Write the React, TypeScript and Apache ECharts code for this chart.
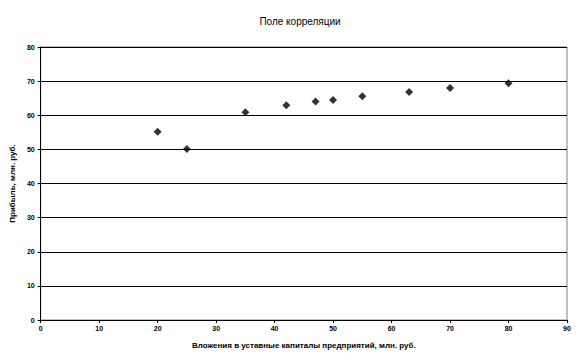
import React, { useEffect, useRef } from "react";
import * as echarts from "echarts";

const investments = [20, 25, 35, 42, 47, 50, 55, 63, 70, 80];
const profits = [55.2, 50.1, 60.9, 62.9, 64.0, 64.5, 65.6, 66.8, 68.0, 69.4];
const title = "Поле корреляции";
const xName = "Вложения в уставные капиталы предприятий, млн. руб.";
const yName = "Прибыль, млн. руб.";

export default function App() {
  const ref = useRef<HTMLDivElement>(null);
  useEffect(() => {
    if (!ref.current) return;
    const chart = echarts.init(ref.current, null, { renderer: "svg" });
    const font = "Liberation Sans, Arial, sans-serif";
    chart.setOption({
      animation: false,
      backgroundColor: "#fff",
      title: {
        text: title,
        left: 295,
        textAlign: "center",
        top: 11,
        textStyle: { fontSize: 10, fontWeight: "normal", color: "#000", fontFamily: font },
      },
      grid: { left: 38, right: 16, top: 47, bottom: 43, show: true, borderColor: "#808080", borderWidth: 1 },
      xAxis: {
        type: "value",
        min: 0,
        max: 90,
        interval: 10,
        name: xName,
        nameLocation: "middle",
        nameGap: 21,
        nameTextStyle: { fontSize: 8, color: "#000", fontFamily: font, fontWeight: "bold" },
        axisLine: { show: true, lineStyle: { color: "#000", width: 1 } },
        axisTick: { show: true, length: 3, lineStyle: { color: "#000" } },
        axisLabel: { fontSize: 7, color: "#000", fontFamily: font, fontWeight: "bold", margin: 5 },
        splitLine: { show: false },
      },
      yAxis: {
        type: "value",
        min: 0,
        max: 80,
        interval: 10,
        name: yName,
        nameLocation: "middle",
        nameGap: 19,
        nameTextStyle: { fontSize: 8, color: "#000", fontFamily: font, fontWeight: "bold" },
        axisLine: { show: true, lineStyle: { color: "#000", width: 1 } },
        axisTick: { show: true, length: 3, lineStyle: { color: "#000" } },
        axisLabel: { fontSize: 7, color: "#000", fontFamily: font, fontWeight: "bold", margin: 6 },
        splitLine: { show: true, lineStyle: { color: "#000", width: 1 } },
      },
      series: [
        {
          type: "scatter",
          data: investments.map((x, i) => [x, profits[i]]),
          symbol: "diamond",
          symbolSize: 8,
          itemStyle: { color: "#000" },
        },
      ],
    });
    return () => chart.dispose();
  }, []);
  return <div ref={ref} style={{ width: 583, height: 363, position: "absolute", left: 0, top: 0 }} />;
}
